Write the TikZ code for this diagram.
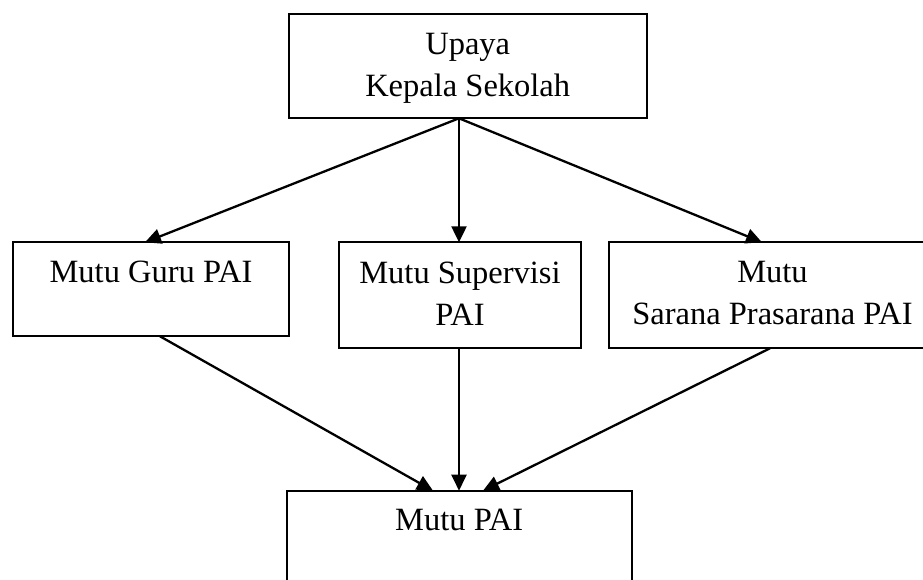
\documentclass[tikz,border=0pt]{standalone}
\usepackage{fontspec}
\setmainfont{Liberation Serif}
\usetikzlibrary{arrows.meta}
\begin{document}
\begin{tikzpicture}[x=1pt,y=-1pt,
  box/.style={draw=black,line width=2pt,inner sep=0pt,outer sep=0pt,anchor=north west},
  txt/.style={anchor=base,inner sep=0pt,font=\fontsize{32.5}{41}\selectfont},
  arr/.style={line width=2.3pt,-{Triangle[length=16pt,width=15pt]}}]
\useasboundingbox (0,0) rectangle (923,580);
\clip (0,0) rectangle (923,580);
% boxes
\node[box,minimum width=358pt,minimum height=104pt] (top) at (288.7,14.3) {};
\node[box,minimum width=276.6pt,minimum height=94pt] (guru) at (12.7,242.3) {};
\node[box,minimum width=242pt,minimum height=106pt] (sup) at (339,242.3) {};
\node[box,minimum width=327pt,minimum height=106pt] (sar) at (609,242.3) {};
\node[box,minimum width=345pt,minimum height=120pt] (mutu) at (286.7,490.7) {};
% texts
\node[txt] (t1) at (467.7,55) {Upaya};
\node[txt] (t2) at (467.7,96.7) {Kepala Sekolah};
\node[txt] (g1) at (151,282.7) {Mutu Guru PAI};
\node[txt] (s1) at (460,283.3) {Mutu Supervisi};
\node[txt] (s2) at (460,325) {PAI};
\node[txt] (r1) at (772.5,282.7) {Mutu};
\node[txt] (r2) at (772.5,324) {Sarana Prasarana PAI};
\node[txt] (m1) at (459.2,530.7) {Mutu PAI};
% connector endpoints
\coordinate (ts) at (459,118.3);
\coordinate (gin) at (145,242.3);
\coordinate (sin) at (459,242.3);
\coordinate (rin) at (762,242.3);
\coordinate (gout) at (160,336.3);
\coordinate (sout) at (459,348.3);
\coordinate (rout) at (770,348.3);
\coordinate (m1in) at (433,490.7);
\coordinate (m2in) at (459,490.7);
\coordinate (m3in) at (483,490.7);
\draw[arr] (ts) -- (gin);
\draw[arr] (ts) -- (sin);
\draw[arr] (ts) -- (rin);
\draw[arr] (gout) -- (m1in);
\draw[arr] (sout) -- (m2in);
\draw[arr] (rout) -- (m3in);
\end{tikzpicture}
\end{document}
